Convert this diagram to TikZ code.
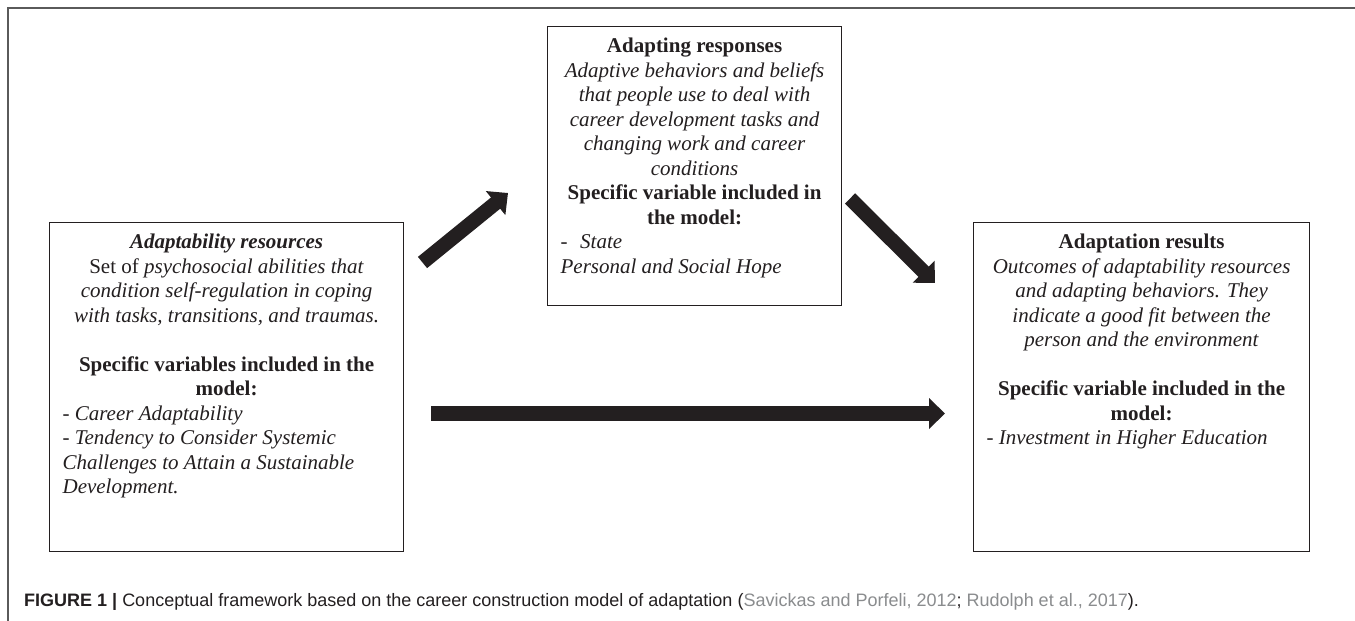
\documentclass[tikz,border=0pt]{standalone}
\usepackage{fontspec}
\setmainfont{Liberation Serif}
\newfontfamily\capfont{Liberation Sans}
\usetikzlibrary{arrows.meta}
\definecolor{ink}{HTML}{231F20}
\definecolor{framegray}{HTML}{5A5A5A}
\definecolor{citegray}{HTML}{8A8C8E}
\newcommand{\ctrln}[1]{\makebox[\linewidth]{#1}\par}
\newcommand{\lftln}[1]{\makebox[\linewidth][l]{#1}\par}
\begin{document}
\begin{tikzpicture}[x=1pt,y=-1pt,
  box/.style={draw=ink, line width=1.2pt, inner xsep=13pt, inner ysep=0pt,
    anchor=north west, font=\fontsize{21}{24.5}\selectfont, text=ink},
  fat/.style={draw=ink, line width=14.5pt, -{Triangle[length=16pt,width=30pt]}}]
\useasboundingbox (0,0) rectangle (1355,621);
\fill[white] (0,0) rectangle (1355,621);
% outer frame
\draw[framegray, line width=1.5pt] (8,621) -- (8,8) -- (1355,8);

\node[box] (res) at (49,222) {\parbox[c][329pt][t]{328pt}{%
\ctrln{\rule{0pt}{26pt}\textbf{\textit{Adaptability resources}}}
\ctrln{Set of \textit{psychosocial abilities that}}
\ctrln{\textit{condition self-regulation in coping}}
\ctrln{\textit{with tasks, transitions, and traumas.}}
\ctrln{}
\ctrln{\textbf{Specific variables included in the}}
\ctrln{\textbf{model:}}
\lftln{- \textit{Career Adaptability}}
\lftln{- \textit{Tendency to Consider Systemic}}
\lftln{\textit{Challenges to Attain a Sustainable}}
\lftln{\textit{Development.}}}};

\node[box] (resp) at (547,26) {\parbox[c][279pt][t]{268pt}{%
\ctrln{\rule{0pt}{26pt}\textbf{Adapting responses}}
\ctrln{\textit{Adaptive behaviors and beliefs}}
\ctrln{\textit{that people use to deal with}}
\ctrln{\textit{career development tasks and}}
\ctrln{\textit{changing work and career}}
\ctrln{\textit{conditions}}
\ctrln{\textbf{Specific variable included in}}
\ctrln{\textbf{the model:}}
\lftln{-\hspace{0.6em}\textit{State}}
\lftln{\textit{Personal and Social Hope}}}};

\node[box] (out) at (973,222) {\parbox[c][329pt][t]{310pt}{%
\ctrln{\rule{0pt}{26pt}\textbf{Adaptation results}}
\ctrln{\textit{Outcomes of adaptability resources}}
\ctrln{\textit{and adapting behaviors. They}}
\ctrln{\textit{indicate a good fit between the}}
\ctrln{\textit{person and the environment}}
\ctrln{}
\ctrln{\textbf{Specific variable included in the}}
\ctrln{\textbf{model:}}
\lftln{- \textit{Investment in Higher Education}}}};

% arrow end points
\coordinate (a1s) at (422.5,262.5);
\coordinate (a1e) at (508,193);
\coordinate (a2s) at (850,198.5);
\coordinate (a2e) at (935,283);
\coordinate (a3s) at (431,413.5);
\coordinate (a3e) at (945,413.5);
\draw[fat] (a1s) -- (a1e);
\draw[fat] (a2s) -- (a2e);
\draw[fat] (a3s) -- (a3e);

\node[anchor=base west, inner sep=0pt, text=ink,
  font=\capfont\fontsize{18}{20}\selectfont] (cap) at (24,606)
  {\textbf{FIGURE 1 |} Conceptual framework based on the career construction model of adaptation (\textcolor{citegray}{Savickas and Porfeli, 2012}; \textcolor{citegray}{Rudolph et al., 2017}).};
\end{tikzpicture}
\end{document}
